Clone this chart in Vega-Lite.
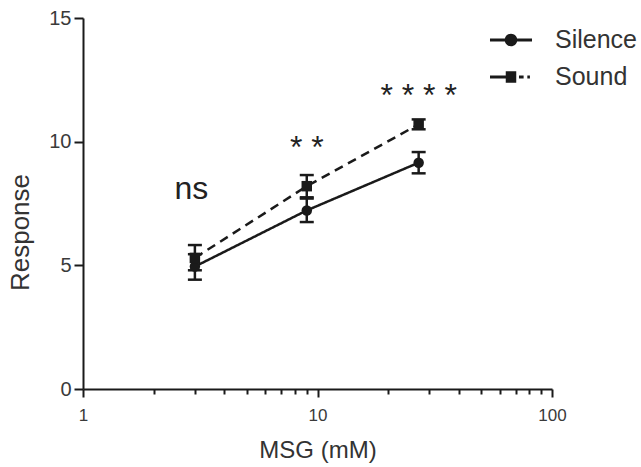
{
  "$schema": "https://vega.github.io/schema/vega-lite/v6.json",
  "width": 469,
  "height": 371,
  "autosize": "none",
  "padding": {"left": 83, "top": 18, "right": 89, "bottom": 78},
  "background": "white",
  "config": {
    "view": {"stroke": null},
    "font": "Liberation Sans",
    "axis": {
      "domainColor": "#1a1a1a",
      "domainWidth": 2,
      "tickColor": "#1a1a1a",
      "tickWidth": 2,
      "labelColor": "#3a3a3a",
      "titleColor": "#333333",
      "labelFont": "Liberation Sans",
      "titleFont": "Liberation Sans",
      "titleFontWeight": "normal",
      "grid": false
    }
  },
  "datasets": {
    "means": [
      {"group": "Silence", "msg": 3, "mean": 4.95, "lo": 4.42, "hi": 5.45},
      {"group": "Silence", "msg": 9, "mean": 7.22, "lo": 6.75, "hi": 7.7},
      {"group": "Silence", "msg": 27, "mean": 9.15, "lo": 8.72, "hi": 9.58},
      {"group": "Sound", "msg": 3, "mean": 5.3, "lo": 4.8, "hi": 5.82},
      {"group": "Sound", "msg": 9, "mean": 8.2, "lo": 7.75, "hi": 8.65},
      {"group": "Sound", "msg": 27, "mean": 10.7, "lo": 10.5, "hi": 10.9}
    ],
    "notes": [
      {"x": 2.9, "y": 7.7, "label": "ns"},
      {"x": 9, "y": 9.35, "label": "* *"},
      {"x": 27, "y": 11.45, "label": "* * * *"}
    ]
  },
  "layer": [
    {
      "data": {"name": "means"},
      "mark": {"type": "line", "strokeWidth": 2.5, "color": "#1a1a1a"},
      "encoding": {
        "x": {
          "field": "msg", "type": "quantitative",
          "scale": {"type": "log", "domain": [1, 100], "nice": false},
          "title": "MSG (mM)",
          "axis": {
            "orient": "bottom", "values": [1, 10, 100], "format": "d",
            "tickSize": 8, "labelPadding": 10, "labelFontSize": 17,
            "labelFlush": false, "labelOverlap": false,
            "titleFontSize": 24, "titleY": 49
          }
        },
        "y": {
          "field": "mean", "type": "quantitative",
          "scale": {"domain": [0, 15], "nice": false},
          "title": "Response",
          "axis": {
            "orient": "left",
            "values": [0, 5, 10, 15], "tickSize": 9, "labelPadding": 3,
            "labelFontSize": 20, "titleFontSize": 26, "titleX": -50, "titleY": 214
          }
        },
        "strokeDash": {
          "field": "group", "type": "nominal",
          "scale": {"domain": ["Sound", "Silence"], "range": [[9, 6], [1, 0]]},
          "legend": null
        }
      }
    },
    {
      "data": {"name": "means"},
      "mark": {
        "type": "errorbar", "color": "#1a1a1a", "thickness": 2.5,
        "ticks": {"size": 14, "thickness": 2.5, "opacity": 1, "color": "#1a1a1a"},
        "rule": {"opacity": 1, "strokeWidth": 2.5, "color": "#1a1a1a"}
      },
      "encoding": {
        "x": {"field": "msg", "type": "quantitative", "axis": null},
        "y": {"field": "lo", "type": "quantitative", "axis": null},
        "y2": {"field": "hi"},
        "detail": {"field": "group"}
      }
    },
    {
      "data": {"name": "means"},
      "mark": {"type": "point", "filled": true, "size": 110, "opacity": 1, "color": "#1a1a1a"},
      "encoding": {
        "x": {"field": "msg", "type": "quantitative", "axis": null},
        "y": {"field": "mean", "type": "quantitative", "axis": null},
        "shape": {
          "field": "group", "type": "nominal",
          "scale": {"domain": ["Sound", "Silence"], "range": ["square", "circle"]},
          "legend": null
        }
      }
    },
    {
      "data": {"name": "means"},
      "mark": {"type": "point", "filled": true, "size": 110, "opacity": 0, "color": "#1a1a1a"},
      "encoding": {
        "x": {"field": "msg", "type": "quantitative", "axis": null},
        "y": {"field": "mean", "type": "quantitative", "axis": null},
        "shape": {
          "field": "group", "type": "nominal",
          "scale": {
            "domain": ["Silence", "Sound"],
            "range": [
              "M-1.273,-0.089H1.273V0.089H-1.273ZM-0.38,0A0.38,0.38 0 1,1 0.38,0A0.38,0.38 0 1,1 -0.38,0Z",
              "M-1.273,-0.089H-0.318V0.089H-1.273ZM-0.318,-0.344H0.318V0.344H-0.318ZM0.484,-0.089H0.764V0.089H0.484ZM0.99,-0.089H1.146V0.089H0.99Z"
            ]
          },
          "legend": {
            "title": null, "orient": "none", "legendX": 411.5, "legendY": 5.5,
            "symbolSize": 1089, "labelFontSize": 25, "labelColor": "#333333",
            "labelFont": "Liberation Sans", "labelOffset": 27.5, "rowPadding": 7, "padding": 0,
            "symbolOpacity": 1, "symbolStrokeWidth": 0, "symbolFillColor": "#1a1a1a"
          }
        }
      }
    },
    {
      "data": {"name": "notes"},
      "mark": {"type": "text", "baseline": "alphabetic", "align": "center", "color": "#222222", "font": "Liberation Sans", "fontSize": 32},
      "encoding": {
        "x": {
          "field": "x", "type": "quantitative",
          "axis": {
            "orient": "bottom", "values": [2, 3, 4, 5, 6, 7, 8, 9, 20, 30, 40, 50, 60, 70, 80, 90],
            "labels": false, "domain": false, "tickSize": 5, "title": null
          }
        },
        "y": {"field": "y", "type": "quantitative", "axis": null},
        "text": {"field": "label"}
      }
    }
  ],
  "resolve": {
    "axis": {"x": "independent", "y": "independent"},
    "scale": {"shape": "independent"},
    "legend": {"shape": "independent"}
  }
}
